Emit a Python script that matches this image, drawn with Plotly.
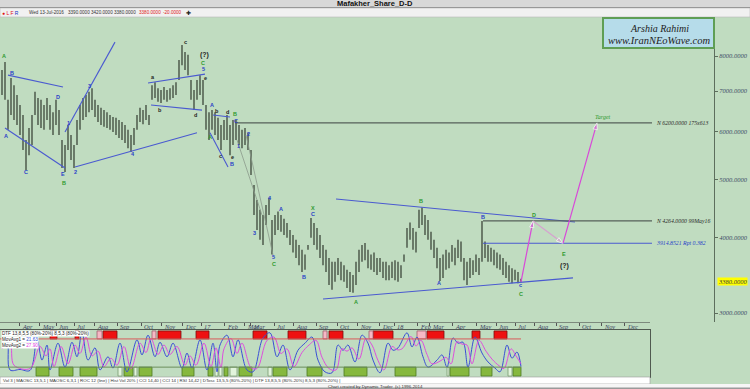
import math
import plotly.graph_objects as go

W, H = 750, 389
def px(x): return x / W
def py(y): return 1 - y / H

# ---------------- data ----------------
bar_sessions = list(range(2, 522, 3))
highs = [7590, 7820, 6770, 7360, 7160, 6900, 6640, 6390, 5810, 6080,
         6390, 6980, 6820, 6770, 6640, 6820, 6640, 6460, 6770, 6510,
         5810, 5700, 6150, 5920, 5700, 6270, 6640, 6820, 6900, 6980,
         7080, 6770, 6640, 6570, 6510, 6460, 6390, 6340, 6320, 6270,
         6220, 6150, 6040, 5920, 6080, 6390, 6570, 6510, 6640, 6390,
         7160, 7240, 7080, 7030, 7110, 7030, 7080, 7160, 7240, 7880,
         8350, 8130, 8040, 7300, 7030, 7300, 7440, 7300, 6640, 6460,
         6510, 6460, 6320, 6150, 6270, 6390, 6150, 6270, 6270, 6150,
         6040, 6080, 5970, 5590, 4890, 4620, 4450, 4360, 4530, 4660,
         4280, 4360, 4420, 4360, 4300, 4230, 4120, 4040, 3970, 3890,
         3820, 3750, 3890, 4310, 4230, 4150, 4040, 3890, 3820, 3700,
         3650, 3650, 3700, 3650, 3600, 3540, 3510, 3470, 3650, 3820,
         3890, 3920, 3820, 3750, 3780, 3700, 3700, 3650, 3650, 3600,
         3650, 3670, 3650, 3600, 3750, 4150, 4240, 4150, 4090, 4450,
         4490, 4360, 4280, 4090, 3970, 3850, 3700, 3750, 3820, 3780,
         3890, 3850, 3970, 3940, 3700, 3650, 3700, 3670, 3750, 3700,
         4264, 3940, 3890, 3850, 3820, 3780, 3750, 3700, 3650, 3600,
         3560, 3540, 3510, 3420]
lows = [6900, 6770, 6040, 6390, 6270, 6150, 5920, 5590, 5180, 5480,
        5700, 6390, 6150, 6080, 6040, 6270, 6040, 5920, 6150, 5920,
        5220, 5140, 5590, 5380, 5220, 5700, 6040, 6270, 6340, 6460,
        6510, 6340, 6220, 6150, 6110, 6080, 6040, 5990, 5920, 5850,
        5810, 5740, 5630, 5550, 5700, 6040, 6220, 6170, 6270, 6150,
        6770, 6820, 6720, 6690, 6770, 6720, 6770, 6820, 6900, 7300,
        7730, 7590, 7440, 6770, 6510, 6770, 6900, 6640, 6040, 5810,
        6040, 5920, 5810, 5590, 5810, 5810, 5480, 5700, 5810, 5700,
        5630, 5700, 5590, 5080, 4360, 4120, 3970, 3890, 4200, 4360,
        3750, 4040, 4120, 4090, 4040, 4000, 3890, 3780, 3700, 3600,
        3510, 3540, 3820, 4000, 3890, 3820, 3700, 3600, 3510, 3340,
        3280, 3380, 3470, 3400, 3380, 3300, 3250, 3240, 3340, 3510,
        3650, 3670, 3560, 3540, 3510, 3470, 3510, 3430, 3400, 3400,
        3430, 3400, 3380, 3430, 3650, 3850, 3970, 3820, 3780, 4150,
        4200, 4040, 3970, 3820, 3700, 3560, 3390, 3430, 3540, 3560,
        3650, 3600, 3700, 3650, 3400, 3340, 3430, 3470, 3510, 3470,
        3650, 3700, 3650, 3650, 3600, 3560, 3540, 3470, 3430, 3380,
        3360, 3400, 3360, 3380]
last_date = "Wed 13-Jul-2016"
last_open, last_high, last_low, last_close, last_change = 3390, 3420, 3380, 3380, -20

trend_x0 = [8, 5, 65, 75, 148, 151, 213, 210, 336, 323]
trend_p0 = [7440, 6080, 5990, 5240, 7220, 6640, 6390, 5970, 4636, 3165]
trend_x1 = [63, 65, 115, 197, 205, 202, 230, 228, 575, 573]
trend_p1 = [7110, 5220, 8440, 5970, 7470, 6510, 6340, 5240, 4247, 3430]

guide_x0 = [246, 237]
guide_p0 = [5920, 5808]
guide_x1 = [273, 262]
guide_p1 = [3745, 4361]

level_prices = [6200.0, 4264.0, 3914.8521]
level_start = [235, 483, 483]
level_end = 652
level_labels = ["N 6200.0000 175x613", "N 4264.0000 99May16", "3914.8521 Rpt 0.382"]

proj_x = [521, 533, 563, 597]
proj_p = [3380, 4264, 3914.8521, 6200]

wave_x = [4, 6, 12, 26, 58, 63, 64, 68, 75, 89, 133, 153, 160, 185, 195, 205, 203, 203, 204,
          212, 210, 217, 227, 220, 232, 232, 235, 236, 238, 248, 254, 270, 273, 274, 281, 304,
          313, 313, 356, 421, 439, 483, 520, 521, 534, 564, 564, 603]
wave_p = [8005, 5897, 7500, 5140, 6844, 5100, 4930, 6200, 5140, 7137, 5505, 7389, 6513, 8444,
          6389, 7361, 7617, 7792, 8037, 6639, 5874, 6490, 6470, 5464, 5440, 5298, 6415, 6246,
          5676, 5943, 4071, 4653, 3714, 3618, 4464, 3441, 4479, 4377, 3128, 4599, 3363, 4329,
          3339, 3225, 4362, 3760, 3589, 6340]
wave_t = ["A", "A", "B", "C", "D", "E", "B", "1", "2", "3", "4", "a", "b", "c", "d", "e", "5",
          "C", "(?)", "A", "A", "b", "d", "c", "e", "B", "B", "C", "1", "2", "3", "4", "5", "C",
          "A", "B", "X", "C", "A", "B", "A", "B", "c", "C", "D", "E", "(?)", "Target"]
wave_k = ["G", "B", "B", "B", "B", "B", "G", "B", "B", "B", "B", "K", "K", "K", "K", "K", "B",
          "G", "K", "B", "G", "K", "K", "K", "K", "B", "G", "B", "B", "B", "B", "B", "B", "G",
          "B", "B", "G", "B", "G", "G", "B", "B", "B", "G", "G", "G", "K", "G"]

price_ticks = [3000, 4000, 5000, 6000, 7000, 8000]

month_ticks = [19, 39, 56, 74, 94, 117, 141, 161, 182, 201, 224, 244, 250, 274, 293, 316, 337,
               357, 379, 394, 417, 429, 452, 476, 496, 515, 534, 556, 579, 601, 624]
month_labels = ["Apr", "May", "Jun", "Jul", "Aug", "Sep", "Oct", "Nov", "Dec", "17", "Feb",
                "Mar", "Mar", "Jul", "Aug", "Sep", "Oct", "Nov", "Dec", "18", "Feb", "Mar",
                "Apr", "May", "Jun", "Jul", "Aug", "Sep", "Oct", "Nov", "Dec"]

osc_x = [2, 7, 10, 20, 30, 37, 42, 47, 50, 58, 65, 72, 77, 82, 88, 95, 100, 108, 113, 120,
         127, 137, 142, 148, 155, 160, 167, 173, 182, 187, 192, 200, 207, 213, 217, 220, 227,
         233, 238, 247, 253, 263, 270, 277, 283, 290, 298, 305, 312, 318, 325, 332, 338, 343,
         348, 355, 362, 368, 373, 380, 388, 393, 398, 407, 412, 417, 423, 428, 437, 442, 447,
         453, 458, 463, 468, 475, 482, 488, 495, 500, 507, 512, 517, 521]
osc_v = [75, 78, 15, 16, 14, 79, 36, 68, 15, 72, 21, 74, 43, 94, 36, 62, 15, 43, 19, 72,
         11, 79, 47, 89, 43, 74, 43, 72, 19, 51, 19, 79, 15, 72, 11, 68, 89, 43, 79, 15,
         11, 83, 94, 43, 68, 15, 57, 72, 85, 36, 11, 9, 68, 57, 68, 32, 89, 72, 36, 9,
         72, 57, 62, 94, 64, 85, 43, 21, 36, 47, 21, 83, 72, 74, 21, 85, 51, 32, 19, 11,
         68, 40, 53, 22]
avg_x = [2, 10, 14, 30, 40, 46, 50, 54, 61, 68, 75, 80, 86, 92, 98, 104, 111, 117, 124, 131,
         140, 146, 151, 158, 164, 170, 177, 185, 190, 196, 204, 211, 216, 221, 224, 231, 237,
         242, 251, 257, 267, 274, 281, 287, 294, 302, 309, 316, 322, 329, 336, 342, 347, 352,
         359, 366, 372, 378, 384, 392, 397, 402, 411, 416, 421, 427, 432, 441, 446, 451, 457,
         462, 467, 472, 479, 486, 492, 499, 504, 511, 516, 521]
avg_v = [60, 70, 25, 18, 65, 45, 60, 22, 65, 28, 68, 50, 85, 45, 55, 22, 40, 25, 65, 18,
         72, 52, 82, 48, 68, 48, 65, 25, 45, 25, 72, 22, 62, 20, 60, 82, 50, 72, 20, 18,
         78, 85, 50, 60, 22, 52, 68, 78, 42, 18, 15, 60, 55, 62, 38, 82, 68, 35, 15, 65,
         58, 60, 86, 66, 78, 48, 28, 35, 42, 28, 75, 70, 68, 28, 78, 55, 38, 24, 18, 60,
         45, 28]
movavg1, movavg2 = 21.63, 27.90
osc_upper, osc_lower = 81, 21

red_start = [50, 75, 103, 158, 196, 253, 288, 329, 373, 427, 472, 494]
red_end = [57, 79, 117, 181, 209, 267, 306, 343, 393, 444, 480, 507]
pink_start = [97, 152, 323, 369, 417]
pink_end = [102, 156, 327, 373, 426]
green_start = [36, 59, 80, 124, 139, 182, 208, 224, 239, 273, 307, 344, 395, 450, 481, 513]
green_end = [49, 73, 97, 133, 152, 194, 213, 228, 252, 287, 322, 367, 416, 469, 492, 521]
pale_start = [118, 134, 215, 219, 230, 268, 447, 508]
pale_end = [122, 137, 218, 222, 237, 272, 449, 512]

# ---------------- styling constants ----------------
BG = "#C0DCC0"
BAR = "#3c463a"
TLINE = "#4a5ad0"
GREEN_T = "#2f9a2f"
BLUE_T = "#2a3fc8"
BLACK_T = "#1e1e1e"
color_of = {"G": GREEN_T, "B": BLUE_T, "K": BLACK_T}

LOG0 = math.log10(3000)
PPD = 603.0  # pixels per decade
y_lo = LOG0 - (322 - 313) / PPD
y_hi = LOG0 + (313 - 17) / PPD

fig = go.Figure()

# price bars
xs, ys = [], []
for x, h, l in zip(bar_sessions, highs, lows):
    xs += [x, x, None]
    ys += [h, l, None]
fig.add_trace(go.Scatter(x=xs, y=ys, mode="lines", line=dict(color=BAR, width=1.3),
                         hoverinfo="skip", xaxis="x", yaxis="y"))

# trend lines
xs, ys = [], []
for a, b, c, d in zip(trend_x0, trend_p0, trend_x1, trend_p1):
    xs += [a, c, None]
    ys += [b, d, None]
fig.add_trace(go.Scatter(x=xs, y=ys, mode="lines", line=dict(color=TLINE, width=1.1),
                         hoverinfo="skip"))
xs, ys = [], []
for a, b, c, d in zip(guide_x0, guide_p0, guide_x1, guide_p1):
    xs += [a, c, None]
    ys += [b, d, None]
fig.add_trace(go.Scatter(x=xs, y=ys, mode="lines", line=dict(color="#8c9a8c", width=0.8),
                         hoverinfo="skip"))

# horizontal levels
lvl_colors = ["#56615a", "#56615a", "#4a5ad0"]
for p, s, c in zip(level_prices, level_start, lvl_colors):
    fig.add_trace(go.Scatter(x=[s, level_end], y=[p, p], mode="lines",
                             line=dict(color=c, width=1.1), hoverinfo="skip"))

# projection arrows
seg_colors = ["#d848d8", "#d6a2cf", "#d848d8"]
for i in range(3):
    fig.add_trace(go.Scatter(x=proj_x[i:i + 2], y=proj_p[i:i + 2], mode="lines+markers",
                             line=dict(color=seg_colors[i], width=1.2),
                             marker=dict(symbol=["circle", "arrow"], size=[0, 7],
                                         angleref="previous", color=seg_colors[i]),
                             hoverinfo="skip"))

# oscillator
fig.add_trace(go.Scatter(x=osc_x, y=osc_v, mode="lines", line=dict(color="#3a4fd6", width=1, shape="spline"),
                         xaxis="x2", yaxis="y2", hoverinfo="skip"))
fig.add_trace(go.Scatter(x=avg_x, y=avg_v, mode="lines", line=dict(color="#de4ede", width=1, shape="spline"),
                         xaxis="x2", yaxis="y2", hoverinfo="skip"))
fig.add_trace(go.Scatter(x=[0, 521], y=[osc_upper, osc_upper], mode="lines",
                         line=dict(color="#d95a5a", width=1), xaxis="x2", yaxis="y2", hoverinfo="skip"))
fig.add_trace(go.Scatter(x=[0, 521], y=[osc_lower, osc_lower], mode="lines",
                         line=dict(color="#6c8f5c", width=1), xaxis="x2", yaxis="y2", hoverinfo="skip"))
# invisible trace for the month axis
fig.add_trace(go.Scatter(x=[0], y=[50], mode="markers", marker=dict(size=0, opacity=0),
                         xaxis="x3", yaxis="y2", hoverinfo="skip"))

shapes = []
# indicator boxes
def box(x0, x1, y0, y1, fill, line):
    shapes.append(dict(type="rect", xref="x2", yref="y2", x0=x0, x1=x1, y0=y0, y1=y1,
                       fillcolor=fill, line=dict(color=line, width=0.8), layer="below"))
for a, b in zip(red_start, red_end):
    box(a, b, 81, 98, "#ee1111", "#7a1010")
for a, b in zip(pink_start, pink_end):
    box(a, b, 81, 98, "#f6b8c4", "#a06070")
for a, b in zip(green_start, green_end):
    box(a, b, 2, 21, "#86b83e", "#4c7a22")
for a, b in zip(pale_start, pale_end):
    box(a, b, 2, 21, "#e2f4dc", "#7a9a70")

# chrome
def prect(x0, y0, x1, y1, fill, line=None, lw=0, layer="above"):
    shapes.append(dict(type="rect", xref="paper", yref="paper", x0=px(x0), x1=px(x1),
                       y0=py(y1), y1=py(y0), fillcolor=fill,
                       line=dict(color=line or fill, width=lw), layer=layer))
prect(0, 0, 750, 7, "#d8d8d8")
prect(0, 7, 750, 8, "#8a8a8a")
prect(0, 8, 750, 17, "#f1f1f1", "#b8b8b8", 0.6)
prect(603, 18, 714, 48, "#b6dcea", "#5f9e55", 2)
prect(0, 377, 650, 384, "#ffffff", "#9a9a9a", 0.6)
prect(0, 384, 750, 389, "#f6f6f6")
prect(0, 387.5, 750, 389, "#9a9a9a")

annotations = []
def ann(x, y, text, size=6, color="#222", xanchor="center", family="Liberation Sans",
        xref="paper", yref="paper", bg=None, **kw):
    d = dict(x=x, y=y, xref=xref, yref=yref, text=text, showarrow=False, xanchor=xanchor,
             yanchor="middle", font=dict(size=size, color=color, family=family), borderpad=0)
    if bg:
        d["bgcolor"] = bg
    d.update(kw)
    annotations.append(d)

# wave labels
for x, p, t, k in zip(wave_x, wave_p, wave_t, wave_k):
    if t == "Target":
        ann(x, math.log10(p), "<i>Target</i>", size=6, color=GREEN_T, family="Liberation Serif",
            xref="x", yref="y")
    elif t == "(?)":
        ann(x, math.log10(p), "<b>(?)</b>", size=7, color=BLACK_T, xref="x", yref="y")
    else:
        ann(x, math.log10(p), "<b>%s</b>" % t, size=5.5, color=color_of[k], xref="x", yref="y")

# level labels
lvl_text_colors = ["#2a2a2a", "#2a2a2a", "#2a3fc8"]
for p, t, c in zip(level_prices, level_labels, lvl_text_colors):
    ann(655, math.log10(p), "<i>%s</i>" % t, size=5.8, color=c, family="Liberation Serif",
        xanchor="left", xref="x", yref="y")

# current price tag on right axis
ann(px(717), math.log10(last_close), "<i>%.4f</i>" % last_close, size=6.5, color="#3a3a3a",
    family="Liberation Serif", xanchor="left", yref="y", bg="#ffff00")

# month labels (to the right of each tick, as in the reference)
for t, lab in zip(month_ticks, month_labels):
    ann(t + 1.5, py(326.5), "<i>%s</i>" % lab, size=6.3, color="#3a3f60",
        family="Liberation Serif", xanchor="left", xref="x2")

# title & status row
ann(px(375), py(3.8), "<b>Mafakher_Share_D-D</b>", size=7.5, color="#111", family="Liberation Sans")
ann(px(1), py(12.5), '<span style="color:#e01010">\u25cf L F</span> <span style="color:#1030c0">R</span>',
    size=5, xanchor="left")
ann(px(28), py(12.5), last_date, size=4.6, color="#333", xanchor="left")
ann(px(67), py(12.5), "%.4f" % last_open, size=4.6, color="#333", xanchor="left")
ann(px(90), py(12.5), "%.4f" % last_high, size=4.6, color="#333", xanchor="left")
ann(px(113), py(12.5), "%.4f" % last_low, size=4.6, color="#333", xanchor="left")
ann(px(138), py(12.5), "%.4f" % last_close, size=4.6, color="#e02020", xanchor="left")
ann(px(162), py(12.5), "%.4f" % last_change, size=4.6, color="#e02020", xanchor="left")
ann(px(188), py(12.5), "\u271a", size=6, color="#222")

# info box
ann(px(659), py(28), "<i>Arshia Rahimi</i>", size=10, color="#222", family="Liberation Serif")
ann(px(659), py(40), "<i>www.IranNEoWave.com</i>", size=10.5, color="#222", family="Liberation Serif")

# indicator legend
ann(px(1), py(333.5), "DTF 13,8,5,5 (80%-20%) 8,5,3 (80%-20%)", size=4.6, color="#222",
    xanchor="left", bg="#ffffff")
ann(px(1), py(339.5), 'MovAvg1 = <span style="color:#3050e0">%.2f</span>' % movavg1, size=4.6,
    color="#222", xanchor="left", bg="#ffffff")
ann(px(1), py(345), 'MovAvg2 = <span style="color:#e040e0">%.2f</span>' % movavg2, size=4.6,
    color="#222", xanchor="left", bg="#ffffff")

# bottom bars
ann(px(2), py(380.5), "Vol 3 | MAOSC 13,5,1 | MAOSC 6,3,1 | ROC 12 (line) | Hist Vol 20% | CCI 14,40 | "
    "CCI 14 | RSI 14,42 | DTosc 13,5,5 (80%-20%) | DTF 13,8,5,5 (80%-20%) 8,5,3 (80%-20%) |",
    size=4.4, color="#333", xanchor="left")
ann(px(375), py(386), "Chart created by Dynamic Trader  (c) 1996-2014", size=4.4, color="#333")

fig.update_layout(
    width=W, height=H, margin=dict(l=0, r=0, t=0, b=0),
    paper_bgcolor=BG, plot_bgcolor=BG, showlegend=False,
    shapes=shapes, annotations=annotations,
    xaxis=dict(domain=[0, px(714)], range=[0, 714], visible=False, fixedrange=True),
    yaxis=dict(domain=[py(322), py(17)], type="log", range=[y_lo, y_hi], side="right",
               anchor="x", showgrid=False, zeroline=False, showline=True,
               linecolor="#5d6e5d", linewidth=1, ticks="outside", ticklen=3,
               tickcolor="#5d6e5d", tickvals=price_ticks,
               ticktext=["%.4f" % v for v in price_ticks],
               tickfont=dict(family="Liberation Serif", size=6.5, color="#3c4a66", style="italic")),
    xaxis2=dict(domain=[0, px(650)], range=[0, 650], anchor="y2", showgrid=False,
                zeroline=False, showline=True, mirror=True, linecolor="#505a50", linewidth=1,
                showticklabels=False, ticks=""),
    yaxis2=dict(domain=[py(377), py(330)], range=[0, 100], anchor="x2", showgrid=False,
                zeroline=False, showline=True, mirror=True, linecolor="#505a50", linewidth=1,
                showticklabels=False, ticks=""),
    xaxis3=dict(domain=[0, px(650)], range=[0, 650], anchor="free", position=py(322),
                overlaying="x2", side="bottom", showgrid=False, zeroline=False, showline=True,
                linecolor="#7d8a7d", linewidth=1, ticks="outside", ticklen=3, tickcolor="#555",
                tickvals=month_ticks, showticklabels=False),
)

fig.write_html("out.html", config={"displayModeBar": False},
               post_script="document.body.style.margin='0';document.body.style.overflow='hidden';")
